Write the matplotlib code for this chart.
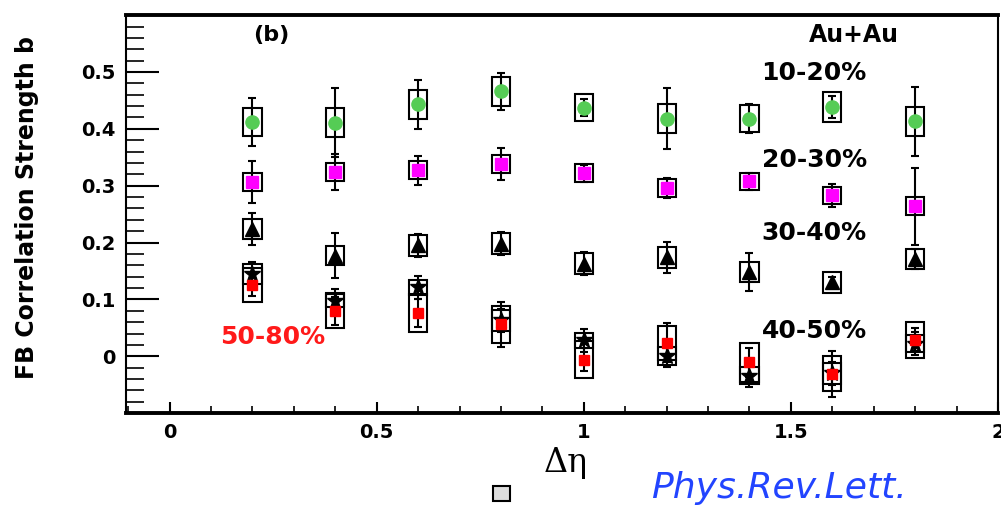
import numpy as np
import matplotlib
matplotlib.use("Agg")
import matplotlib.pyplot as plt
from matplotlib.patches import Rectangle
from matplotlib.ticker import MultipleLocator

plt.rcParams["font.family"] = ["DejaVu Sans"]

# Delta eta bins
deta = [0.2, 0.4, 0.6, 0.8, 1.0, 1.2, 1.4, 1.6, 1.8]

# 10-20% centrality
b_10_20 = [0.412, 0.411, 0.443, 0.466, 0.437, 0.418, 0.418, 0.438, 0.413]
stat_10_20 = [0.042, 0.060, 0.043, 0.033, 0.015, 0.053, 0.025, 0.019, 0.060]
sys_10_20 = [0.025, 0.025, 0.025, 0.025, 0.024, 0.025, 0.024, 0.026, 0.025]

# 20-30% centrality
b_20_30 = [0.306, 0.324, 0.327, 0.338, 0.322, 0.296, 0.308, 0.283, 0.264]
stat_20_30 = [0.037, 0.032, 0.025, 0.028, 0.015, 0.017, 0.015, 0.020, 0.068]
sys_20_30 = [0.016, 0.016, 0.016, 0.016, 0.016, 0.016, 0.015, 0.015, 0.016]

# 30-40% centrality
b_30_40 = [0.224, 0.177, 0.195, 0.198, 0.163, 0.174, 0.148, 0.130, 0.171]
stat_30_40 = [0.028, 0.040, 0.020, 0.020, 0.020, 0.027, 0.033, 0.010, 0.018]
sys_30_40 = [0.018, 0.017, 0.018, 0.018, 0.018, 0.018, 0.018, 0.018, 0.018]

# 40-50% centrality
b_40_50 = [0.145, 0.098, 0.121, 0.063, 0.028, 0.001, -0.034, -0.030, 0.022]
stat_40_50 = [0.020, 0.020, 0.020, 0.020, 0.020, 0.020, 0.020, 0.020, 0.020]
sys_40_50 = [0.018, 0.012, 0.013, 0.018, 0.013, 0.016, 0.015, 0.018, 0.015]

# 50-80% centrality
b_50_80 = [0.126, 0.080, 0.076, 0.056, -0.006, 0.024, -0.011, -0.031, 0.029]
stat_50_80 = [0.020, 0.025, 0.025, 0.040, 0.020, 0.035, 0.025, 0.040, 0.020]
sys_50_80 = [0.030, 0.031, 0.034, 0.032, 0.033, 0.030, 0.034, 0.031, 0.032]

series = [
    (b_10_20, stat_10_20, sys_10_20, "o", "#55cc55", 9.5),
    (b_20_30, stat_20_30, sys_20_30, "s", "#ff00ff", 8),
    (b_30_40, stat_30_40, sys_30_40, "^", "black", 10),
    (b_40_50, stat_40_50, sys_40_50, "*", "black", 12),
    (b_50_80, stat_50_80, sys_50_80, "s", "#ff0000", 7),
]

fig = plt.figure(figsize=(10.01, 5.05), dpi=100)
ax = fig.add_axes([0.126, 0.182, 0.871, 0.788])

box_w = 0.044
for vals, stat, sys_, mk, col, ms in series:
    for x, y, s in zip(deta, vals, sys_):
        ax.add_patch(Rectangle((x - box_w / 2, y - s), box_w, 2 * s,
                               fill=False, ec="black", lw=1.5, zorder=2))
    ax.errorbar(deta, vals, yerr=stat, fmt="none", ecolor="black",
                elinewidth=1.5, capsize=3, capthick=1.5, zorder=3)
    ax.plot(deta, vals, ls="none", marker=mk, color=col, ms=ms,
            mec=col, zorder=4)

ax.set_xlim(-0.105, 2.0)
ax.set_ylim(-0.1, 0.6)

ax.xaxis.set_minor_locator(MultipleLocator(0.1))
ax.yaxis.set_minor_locator(MultipleLocator(0.02))
ax.set_yticks([0, 0.1, 0.2, 0.3, 0.4, 0.5])
ax.set_yticklabels(["0", "0.1", "0.2", "0.3", "0.4", "0.5"])
ax.set_xticks([0, 0.5, 1, 1.5, 2])
ax.set_xticklabels(["0", "0.5", "1", "1.5", "2"])

ax.tick_params(axis="y", which="major", direction="in", length=24, width=1.5,
               labelsize=14, pad=8)
ax.tick_params(axis="y", which="minor", direction="in", length=13, width=1.2)
ax.tick_params(axis="x", which="major", direction="in", length=8, width=1.5,
               labelsize=14, pad=7)
ax.tick_params(axis="x", which="minor", direction="in", length=5, width=1.2)
for lab in ax.get_xticklabels() + ax.get_yticklabels():
    lab.set_fontweight("bold")

for side in ["left", "right"]:
    ax.spines[side].set_linewidth(1.5)
for side in ["top", "bottom"]:
    ax.spines[side].set_linewidth(2.8)

ax.text(0.246, 0.565, "(b)", fontsize=16, fontweight="bold", ha="center", va="center")
ax.text(1.652, 0.565, "Au+Au", fontsize=17, fontweight="bold", ha="center", va="center")
for lbl, ly in [("10-20%", 0.498), ("20-30%", 0.345), ("30-40%", 0.216), ("40-50%", 0.045)]:
    ax.text(1.556, ly, lbl, fontsize=18, fontweight="bold", ha="center", va="center")
ax.text(0.248, 0.033, "50-80%", fontsize=18, fontweight="bold", color="#ff1a1a",
        ha="center", va="center")

fig.text(0.027, 0.59, "FB Correlation Strength b", rotation=90, fontsize=17,
         fontweight="bold", ha="center", va="center")
fig.text(0.565, 0.083, "Δη", fontsize=24, family="DejaVu Serif",
         ha="center", va="center")
fig.text(0.778, 0.034, "Phys.Rev.Lett.", fontsize=26, style="italic",
         color="#2244ff", ha="center", va="center")
fig.patches.append(Rectangle((0.493, 0.008), 0.016, 0.03, transform=fig.transFigure,
                             fill=True, fc="#dddddd", ec="black", lw=1.5))

fig.savefig("out.png", dpi=100)
